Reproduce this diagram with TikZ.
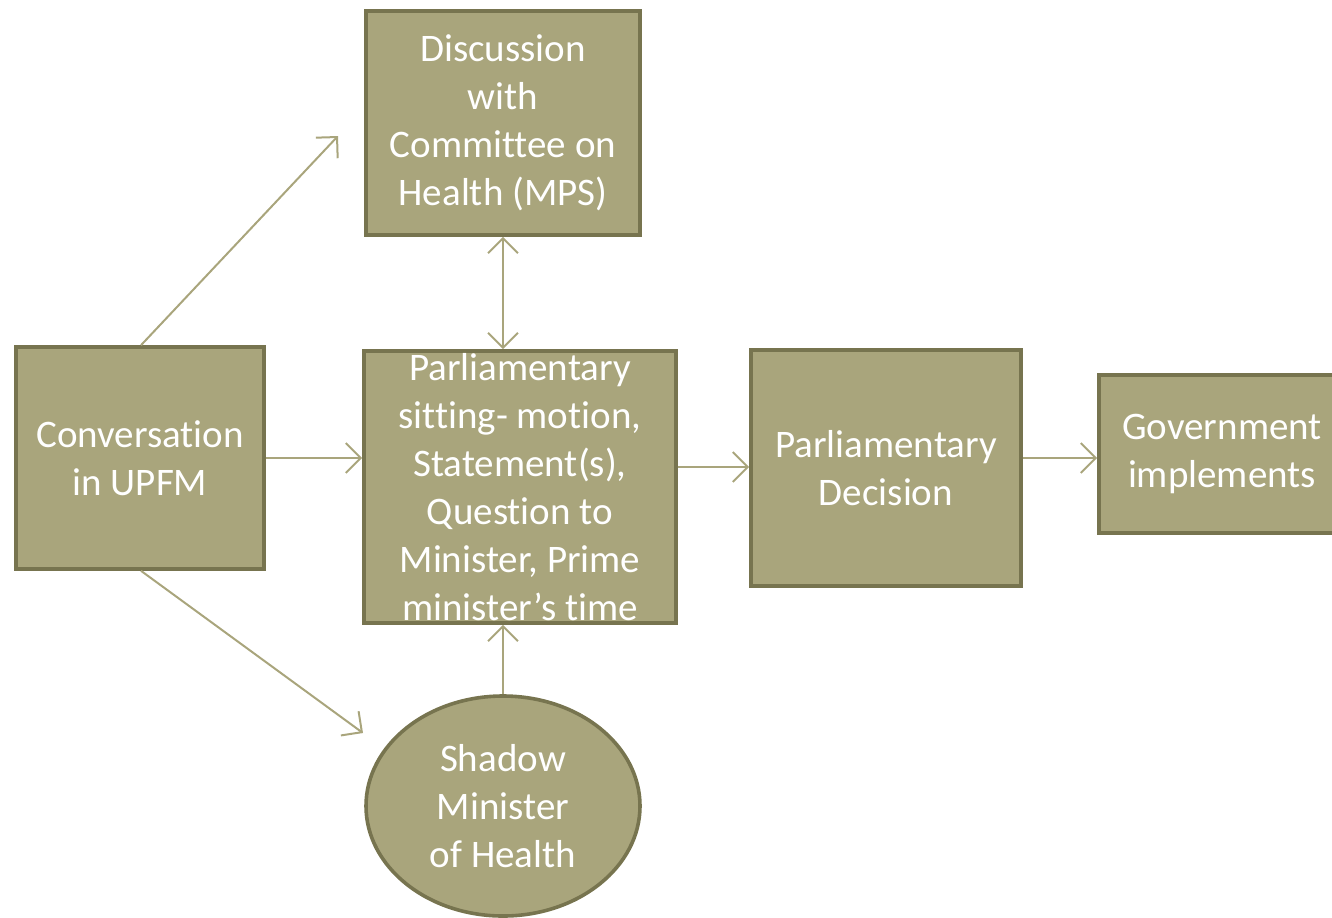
\documentclass[tikz,border=0pt]{standalone}
\usepackage{fontspec}
\setmainfont{Carlito}[Ligatures=NoCommon]
\usetikzlibrary{positioning, shapes.geometric, arrows.meta}
\definecolor{boxfill}{HTML}{A9A57C}
\definecolor{boxline}{HTML}{77744F}
\definecolor{arrowline}{HTML}{A9A57C}

\begin{document}
\begin{tikzpicture}[x=0.5pt, y=-0.5pt,
  stage/.style={draw=boxline, fill=boxfill, line width=1.8pt, text=white, align=center,
    font=\fontsize{19.5}{24}\selectfont, inner sep=0pt},
  flow/.style={draw=arrowline, line width=1pt, -{Straight Barb[length=7.5pt, width=15pt]}},
  biflow/.style={flow, {Straight Barb[length=7.5pt, width=15pt]}-{Straight Barb[length=7.5pt, width=15pt]}}]
  \useasboundingbox (0,0) rectangle (1332,917);

  \node[stage, minimum width=137pt, minimum height=112pt] (disc) at (503,123) {Discussion\\with\\Committee on\\Health (MPS)};
  \node[stage, minimum width=124pt, minimum height=111pt] (conv) at (140,458) {Conversation\\in UPFM};
  \node[stage, minimum width=156pt, minimum height=136pt, inner ysep=-3pt] (sit) at (520,487) {Parliamentary\\sitting- motion,\\Statement(s),\\Question to\\Minister, Prime\\minister’s time};
  \node[stage, minimum width=135pt, minimum height=118pt] (dec) at (886,468) {Parliamentary\\Decision};
  \node[stage, minimum width=123pt, minimum height=79pt] (gov) at (1222,454) {Government\\implements};
  \node[stage, ellipse, minimum width=137pt, minimum height=110pt] (shadow) at (503,806) {Shadow\\Minister\\of Health};

  \coordinate (upend) at (338,136);
  \coordinate (downend) at (363,733);

  \draw[flow] ([xshift=0.5pt]conv.north) -- (upend);
  \draw[flow] ([xshift=0.5pt]conv.south) -- (downend);
  \draw[flow] (conv.east) -- (conv.east -| sit.west);
  \draw[biflow] (disc.south) -- (disc.south |- sit.north);
  \draw[flow] (shadow.north) -- (shadow.north |- sit.south);
  \draw[flow] ([yshift=10pt]sit.east) -- ([yshift=10pt]sit.east -| dec.west);
  \draw[flow] ([yshift=-2pt]gov.west -| dec.east) -- ([yshift=-2pt]gov.west);
\end{tikzpicture}
\end{document}
